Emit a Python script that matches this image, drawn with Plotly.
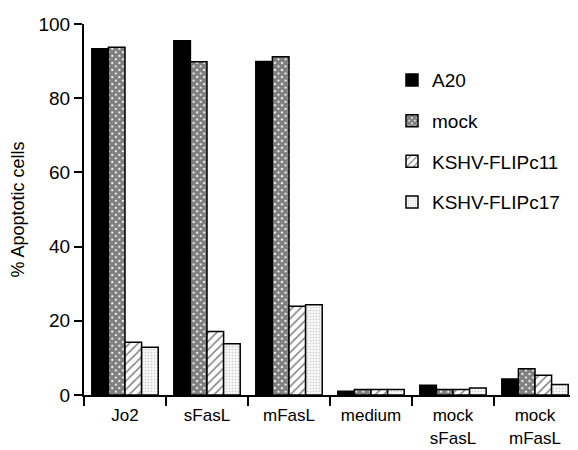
import plotly.graph_objects as go

categories = ["Jo2", "sFasL", "mFasL", "medium", "mock<br>sFasL", "mock<br>mFasL"]
series_names = ["A20", "mock", "KSHV-FLIPc11", "KSHV-FLIPc17"]
a20 = [93.3, 95.5, 89.9, 1.0, 2.6, 4.3]
mock = [93.7, 89.8, 91.2, 1.5, 1.5, 7.1]
flip_c11 = [14.2, 17.1, 23.9, 1.5, 1.5, 5.3]
flip_c17 = [12.9, 13.8, 24.3, 1.5, 1.9, 2.8]
y_ticks = [0, 20, 40, 60, 80, 100]

font = "Liberation Sans, Arial, Helvetica, sans-serif"

styles = [
    dict(color="black", pattern=None),
    dict(color="white", pattern=dict(shape="x", fgcolor="black", bgcolor="white", size=5, solidity=0.85)),
    dict(color="white", pattern=dict(shape="/", fgcolor="black", bgcolor="white", size=6, solidity=0.25)),
    dict(color="white", pattern=dict(shape=".", fgcolor="#999999", bgcolor="#f6f6f6", size=3, solidity=0.2)),
]

fig = go.Figure()
for i, (name, vals) in enumerate(zip(series_names, [a20, mock, flip_c11, flip_c17])):
    st = styles[i]
    marker = dict(color=st["color"], line=dict(color="black", width=1.5))
    if st["pattern"] is not None:
        marker["pattern"] = st["pattern"]
    fig.add_trace(go.Bar(x=categories, y=vals, name=name, marker=marker,
                         legendgroup=f"g{i}"))

fig.update_layout(
    width=578, height=450,
    margin=dict(l=76, r=10, t=16, b=63),
    paper_bgcolor="white", plot_bgcolor="white",
    barmode="group", bargap=0.19, bargroupgap=0,
    font=dict(family=font, size=19, color="black"),
    legend=dict(x=0.626, y=0.9, xanchor="left", yanchor="top",
                font=dict(size=19), tracegroupgap=13,
                bgcolor="rgba(0,0,0,0)"),
    xaxis=dict(showline=True, linecolor="black", linewidth=2, automargin=False,
               ticks="outside", tickson="boundaries", ticklen=9, tickwidth=2,
               tickcolor="black", showgrid=False, tickfont=dict(size=17),
               ticklabelstandoff=4),
    yaxis=dict(range=[0, 100], tickvals=y_ticks, showline=True, linecolor="black",
               linewidth=2, ticks="outside", ticklen=8, tickwidth=2, tickcolor="black",
               showgrid=False, zeroline=False, automargin=False,
               title=dict(text="% Apoptotic cells", font=dict(size=18), standoff=11),
               tickfont=dict(size=19)),
)

fig.write_html("out.html")
